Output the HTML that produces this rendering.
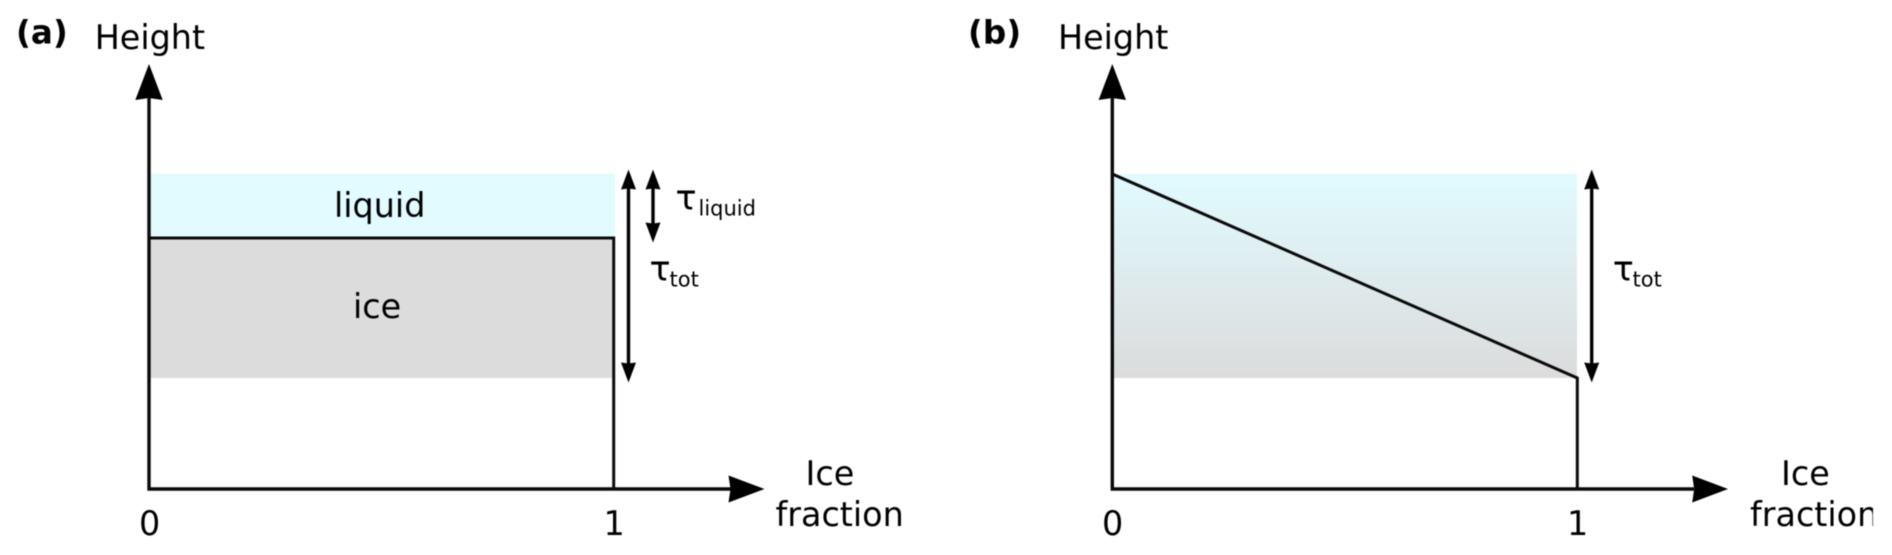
<!DOCTYPE html>
<html>
<head>
<meta charset="utf-8">
<style>
html,body{margin:0;padding:0;background:#fff;width:1892px;height:555px;overflow:hidden}
svg{display:block;filter:blur(.4px)}
text{font-family:"DejaVu Sans",sans-serif;fill:#000;font-size:33.4px}
.s{font-size:21px}
.t{font-size:35px}
.b{font-weight:bold;font-size:32.6px}
</style>
</head>
<body>
<svg width="1892" height="555" viewBox="0 0 1892 555" xmlns="http://www.w3.org/2000/svg">
<defs>
<linearGradient id="g" x1="0" y1="0" x2="0" y2="1">
<stop offset="0" stop-color="#e1fbff"/>
<stop offset="1" stop-color="#dcdcdc"/>
</linearGradient>
<clipPath id="c"><rect x="0" y="0" width="1873" height="555"/></clipPath>
</defs>
<rect width="1892" height="555" fill="#fff"/>

<!-- Panel a -->
<rect x="149" y="174" width="466" height="64" fill="#e1fbff"/>
<rect x="149" y="238" width="463" height="140" fill="#dcdcdc"/>
<path d="M149 96V489H732" fill="none" stroke="#0a0a0a" stroke-width="3.4"/>
<path d="M149 238H613.7V489" fill="none" stroke="#0a0a0a" stroke-width="3"/>
<path d="M149 64L162.7 100L149 98L135.3 100Z" fill="#000"/>
<path d="M764.500 489L728.500 502.500L730.500 489L728.500 475.500Z" fill="#000"/>
<path d="M628.500 185V368" stroke="#000" stroke-width="3.4" fill="none"/>
<path d="M628.500 169.500L636 189.500L628.500 188.500L621 189.500Z" fill="#000"/>
<path d="M628.500 382.500L636 362.500L628.500 363.500L621 362.500Z" fill="#000"/>
<path d="M653 185V228" stroke="#000" stroke-width="3.4" fill="none"/>
<path d="M653 169.500L660.500 189.500L653 188.500L645.500 189.500Z" fill="#000"/>
<path d="M653 242.500L660.500 222.500L653 223.500L645.500 222.500Z" fill="#000"/>

<text class="b" x="16" y="43.500">(a)</text>
<text x="94.700" y="49">Height</text>
<text x="334" y="217">liquid</text>
<text x="353" y="318">ice</text>
<text class="t" x="675.500" y="209.500">τ</text>
<text class="s" x="698.500" y="215.700">liquid</text>
<text class="t" x="649.500" y="280.500">τ</text>
<text class="s" x="669.500" y="286.700">tot</text>
<text x="805.500" y="484.800">Ice</text>
<text x="775.500" y="526">fraction</text>
<text x="139" y="535">0</text>
<text x="603.500" y="535">1</text>

<!-- Panel b -->
<rect x="1112" y="174" width="465" height="204" fill="url(#g)"/>
<path d="M1112.300 96V489H1694" fill="none" stroke="#0a0a0a" stroke-width="3.4"/>
<path d="M1112.300 174L1577.300 378V489" fill="none" stroke="#0a0a0a" stroke-width="3"/>
<path d="M1112.300 64L1126 100L1112.300 98L1098.600 100Z" fill="#000"/>
<path d="M1728 489L1692.200 502.500L1694.200 489L1692.200 475.500Z" fill="#000"/>
<path d="M1591.700 185V368" stroke="#000" stroke-width="3.4" fill="none"/>
<path d="M1591.700 169.500L1599.200 189.500L1591.700 188.500L1584.200 189.500Z" fill="#000"/>
<path d="M1591.700 382.500L1599.200 362.500L1591.700 363.500L1584.200 362.500Z" fill="#000"/>

<text class="b" x="968" y="43.500">(b)</text>
<text x="1058" y="49">Height</text>
<text class="t" x="1612.800" y="280.500">τ</text>
<text class="s" x="1632.500" y="286.700">tot</text>
<g clip-path="url(#c)">
<text x="1781" y="484.800">Ice</text>
<text x="1750" y="526">fraction</text>
</g>
<text x="1102" y="535">0</text>
<text x="1567" y="535">1</text>
<rect x="0" y="0" width="1892" height="19" fill="#fff"/>
</svg>
</body>
</html>
